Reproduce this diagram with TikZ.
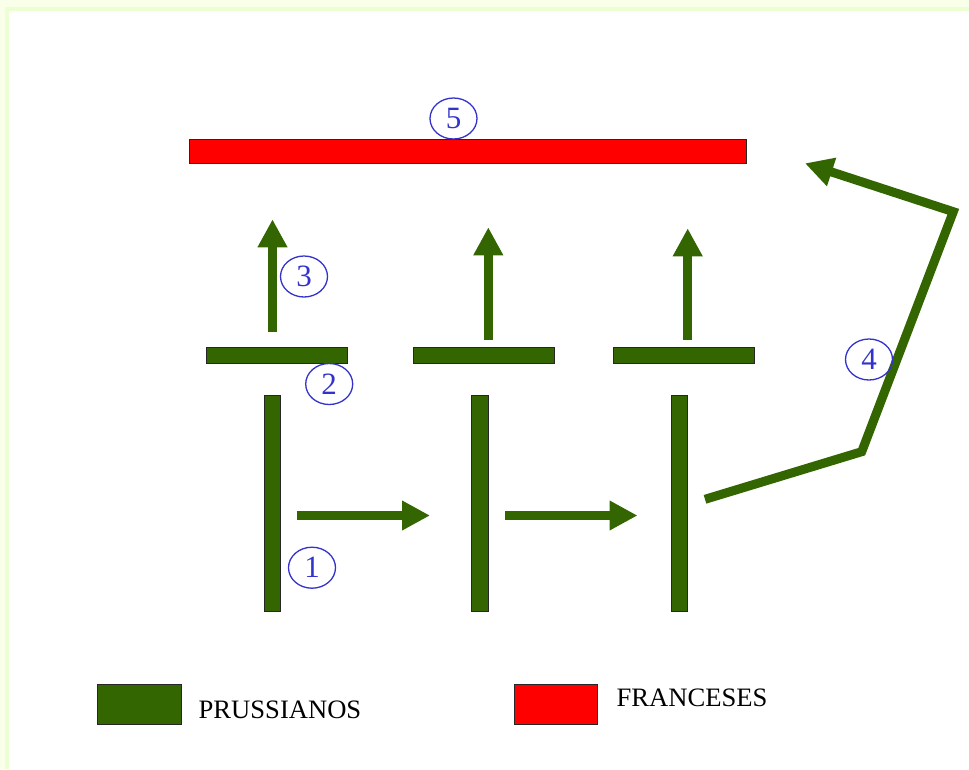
\documentclass[tikz,border=0pt]{standalone}
\usepackage{fontspec}
\setmainfont{Liberation Serif}
\usetikzlibrary{arrows.meta,shapes.geometric}

\definecolor{armygreen}{HTML}{336600}
\definecolor{armyred}{HTML}{FF0000}
\definecolor{badgeblue}{HTML}{3333CC}
\definecolor{framepale}{HTML}{FAFFEA}
\definecolor{frameline}{HTML}{ECFFD2}

\tikzset{
  troop/.style={rectangle, draw=black!85, line width=0.8pt, inner sep=0pt, outer sep=0pt},
  prussian/.style={troop, fill=armygreen},
  french/.style={troop, fill=armyred},
  hbar/.style={minimum width=141pt, minimum height=16pt},
  vbar/.style={minimum width=16.5pt, minimum height=216pt},
  move/.style={draw=armygreen, line width=9.5pt,
    -{Triangle[length=28pt, width=28pt, fill=armygreen]}},
  badge/.style={ellipse, draw=badgeblue, line width=1.3pt, text=badgeblue,
    minimum width=47pt, minimum height=41pt, inner sep=0pt,
    font=\fontsize{31}{31}\selectfont},
  legendtext/.style={inner sep=0pt, anchor=base west,
    font=\fontsize{26.6}{26.6}\selectfont}
}

\begin{document}
\begin{tikzpicture}[x=1pt, y=-1pt]
  \useasboundingbox (0,0) rectangle (969,769);

  % page frame along the top and left edges
  \fill[framepale] (0,0) rectangle (969,8);
  \fill[framepale] (0,0) rectangle (6,769);
  \fill[frameline] (5,7) rectangle (969,10.5);
  \fill[frameline] (5,7) rectangle (8.5,769);

  % French line
  \node[french, minimum width=557pt, minimum height=24pt] (fr) at (467.5,151) {};

  % Prussian second line
  \node[prussian, hbar] (h1) at (276.5,355.5) {};
  \node[prussian, hbar] (h2) at (484,355.5) {};
  \node[prussian, hbar] (h3) at (683.5,355.5) {};

  % Prussian first line
  \node[prussian, vbar] (v1) at (272.5,503) {};
  \node[prussian, vbar] (v2) at (480,503) {};
  \node[prussian, vbar] (v3) at (679.5,503) {};

  % arrow end points
  \coordinate (a1s) at (272.5,332);  \coordinate (a1e) at (272.5,219.3);
  \coordinate (a2s) at (488.3,340);  \coordinate (a2e) at (488.3,227.3);
  \coordinate (a3s) at (687.7,340);  \coordinate (a3e) at (687.7,228.3);
  \coordinate (r1s) at (296.7,515.5); \coordinate (r1e) at (430,515.5);
  \coordinate (r2s) at (505,515.5);   \coordinate (r2e) at (637.5,515.5);
  \coordinate (f0) at (705,499.3);
  \coordinate (f1) at (861.7,451.7);
  \coordinate (f2) at (953.3,211.7);
  \coordinate (f3) at (805,163.3);

  % advances towards the French
  \draw[move] (a1s) -- (a1e);
  \draw[move] (a2s) -- (a2e);
  \draw[move] (a3s) -- (a3e);

  % lateral movement of the first line
  \draw[move] (r1s) -- (r1e);
  \draw[move] (r2s) -- (r2e);

  % flanking manoeuvre
  \draw[move, line width=9pt, line join=miter] (f0) -- (f1) -- (f2) -- (f3);

  % numbered phases
  \node[badge] (n5) at (453.5,118.5) {5};
  \node[badge] (n3) at (304,276.5) {3};
  \node[badge] (n2) at (329.2,384) {2};
  \node[badge] (n4) at (869,359.5) {4};
  \node[badge] (n1) at (312,567.7) {1};

  % legend
  \node[prussian, minimum width=84pt, minimum height=40pt] (kp) at (139,704) {};
  \node[legendtext] (tp) at (198.5,718.3) {PRUSSIANOS};
  \node[french, minimum width=83pt, minimum height=40pt] (kf) at (555.5,704) {};
  \node[legendtext] (tf) at (616.5,706.7) {FRANCESES};
\end{tikzpicture}
\end{document}
